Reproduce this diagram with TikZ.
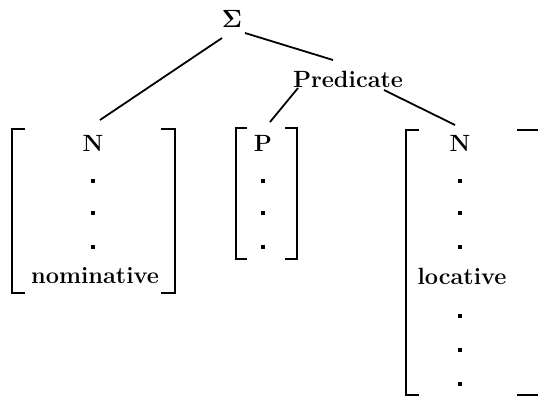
\documentclass[tikz,border=0pt]{standalone}
\usepackage[no-math]{fontspec}
\setmainfont{Latin Modern Roman}
\begin{document}
\begin{tikzpicture}[x=1pt,y=-1pt,
  lbl/.style={font=\fontsize{23.5}{27}\selectfont\bfseries, inner sep=1pt},
  sig/.style={font=\fontsize{32}{36}\selectfont\bfseries, inner sep=1pt},
  edge/.style={line width=1.8pt},
  brk/.style={line width=2.6pt},
  dotm/.style={rectangle, fill=black, inner sep=0pt, minimum size=3.2pt}]
\useasboundingbox (0,0) rectangle (538,397);
% nodes
\node[sig] (S) at (232,19) {$\mathbf{\Sigma}$};
\node[lbl] (Pred) at (348,79) {Predicate};
\node[lbl] (N1) at (93,143) {N};
\node[lbl] (P) at (263,143) {P};
\node[lbl] (N3) at (460,143) {N};
\node[lbl] (nom) at (95,276) {nominative};
\node[lbl] (loc) at (462,276) {locative};
% dots
\foreach \y [count=\i] in {181,213,247}{
  \node[dotm] (da\i) at (93,\y) {};
  \node[dotm] (db\i) at (263,\y) {};
  \node[dotm] (dc\i) at (460,\y) {};
}
\foreach \y [count=\i] in {316,350,384}{
  \node[dotm] (dd\i) at (460,\y) {};
}
% tree edges
\draw[edge] ([shift={(-10,19)}]S.center) -- ([shift={(7,-23)}]N1.center);
\draw[edge] ([shift={(13,14)}]S.center) -- ([shift={(-15,-19)}]Pred.center);
\draw[edge] ([shift={(-50,9)}]Pred.center) -- ([shift={(7,-21)}]P.center);
\draw[edge] ([shift={(36,11)}]Pred.center) -- ([shift={(-5,-18)}]N3.center);
% brackets
\draw[brk] (25,129) -- (12,129) -- (12,293) -- (25,293);
\draw[brk] (161,129) -- (175,129) -- (175,293) -- (161,293);
\draw[brk] (247,128) -- (236,128) -- (236,259) -- (247,259);
\draw[brk] (285,128) -- (297,128) -- (297,259) -- (285,259);
\draw[brk] (419,130) -- (406,130) -- (406,395) -- (419,395);
\draw[brk] (517,130) -- (538,130);
\draw[brk] (517,395) -- (538,395);
\end{tikzpicture}
\end{document}
